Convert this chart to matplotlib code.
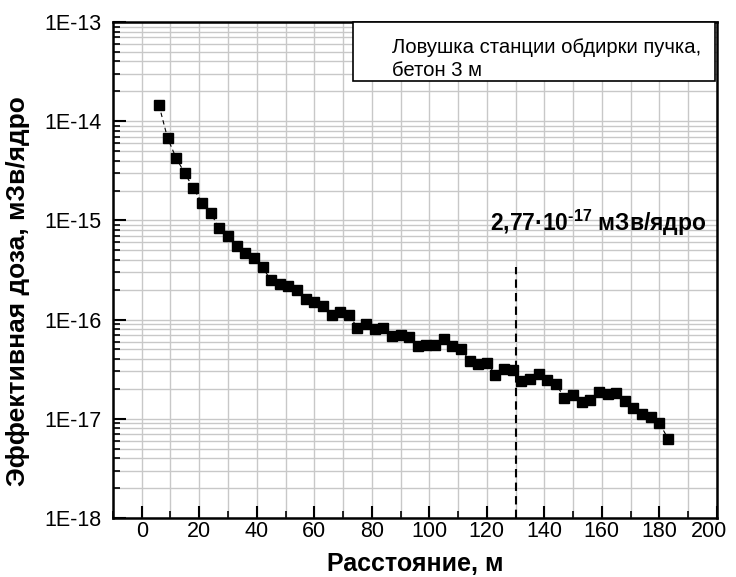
import matplotlib
matplotlib.use("Agg")
import matplotlib.pyplot as plt
from matplotlib.ticker import MultipleLocator, LogLocator, FuncFormatter, NullFormatter
from matplotlib.patches import Rectangle
from matplotlib.transforms import ScaledTranslation
import numpy as np

plt.rcParams['font.family'] = ['Liberation Sans', 'DejaVu Sans']
plt.rcParams['mathtext.fontset'] = 'custom'
plt.rcParams['mathtext.rm'] = 'Liberation Sans:bold'
plt.rcParams['mathtext.bf'] = 'Liberation Sans:bold'
plt.rcParams['mathtext.it'] = 'Liberation Sans:bold'

distance = [6, 9, 12, 15, 18, 21, 24, 27, 30, 33, 36, 39, 42, 45, 48, 51, 54, 57, 60, 63,
            66, 69, 72, 75, 78, 81, 84, 87, 90, 93, 96, 99, 102, 105, 108, 111, 114, 117, 120, 123,
            126, 129, 132, 135, 138, 141, 144, 147, 150, 153, 156, 159, 162, 165, 168, 171, 174, 177, 180, 183]
dose = [1.45e-14, 6.73e-15, 4.23e-15, 2.98e-15, 2.1e-15, 1.49e-15, 1.18e-15, 8.3e-16, 6.9e-16, 5.46e-16,
        4.64e-16, 4.13e-16, 3.35e-16, 2.48e-16, 2.26e-16, 2.2e-16, 2.01e-16, 1.63e-16, 1.52e-16, 1.38e-16,
        1.1e-16, 1.18e-16, 1.12e-16, 8.3e-17, 9.1e-17, 8.1e-17, 8.3e-17, 6.9e-17, 7.05e-17, 6.6e-17,
        5.46e-17, 5.6e-17, 5.6e-17, 6.4e-17, 5.46e-17, 5.1e-17, 3.85e-17, 3.6e-17, 3.68e-17, 2.78e-17,
        3.2e-17, 3.13e-17, 2.42e-17, 2.54e-17, 2.85e-17, 2.48e-17, 2.26e-17, 1.62e-17, 1.75e-17, 1.49e-17,
        1.56e-17, 1.88e-17, 1.79e-17, 1.83e-17, 1.52e-17, 1.29e-17, 1.12e-17, 1.05e-17, 9.1e-18, 6.3e-18]

marker_x = 130
marker_top = 3.35e-16
legend_lines = ["Ловушка станции обдирки пучка,", "бетон 3 м"]
annot_text = "2,77·10$^{\\text{-17}}$ мЗв/ядро"

fig = plt.figure(figsize=(7.36, 5.77), dpi=100)
ax = fig.add_axes([0.1535, 0.1023, 0.8205, 0.8596])

ax.set_yscale('log')
ax.set_xlim(-10, 200)
ax.set_ylim(1e-18, 1e-13)

ax.plot(distance, dose, color='black', lw=0.8, ls=(0, (4, 3)), marker='s', ms=7,
        mfc='black', mec='black', zorder=3)

ax.vlines(marker_x, 1e-18, marker_top, colors='black', linestyles=(0, (4, 2.5)), lw=1.5, zorder=2)

ax.xaxis.set_major_locator(MultipleLocator(20))
ax.xaxis.set_minor_locator(MultipleLocator(10))
ax.yaxis.set_major_locator(LogLocator(base=10, numticks=10))
ax.yaxis.set_minor_locator(LogLocator(base=10, subs=np.arange(2, 10), numticks=20))
ax.yaxis.set_minor_formatter(NullFormatter())

def fmt(v, pos):
    e = int(round(np.log10(v)))
    return "1E%d" % e
ax.yaxis.set_major_formatter(FuncFormatter(fmt))

ax.grid(True, which='both', color='#c8c8c8', lw=1.0, zorder=0)
ax.set_axisbelow(True)

ax.tick_params(which='major', direction='in', length=9, width=1.5, labelsize=15.5,
               top=False, right=False)
ax.tick_params(which='minor', direction='in', length=5, width=1.2, top=False, right=False)
ax.tick_params(axis='x', which='major', pad=2)
ax.tick_params(axis='y', which='major', pad=8)

for s in ax.spines.values():
    s.set_linewidth(1.8)

ax.set_xlabel("Расстояние, м", fontsize=18, fontweight='bold')
ax.set_ylabel("Эффективная доза, мЗв/ядро", fontsize=19, fontweight='bold')
ax.xaxis.set_label_coords(0.5, -0.069)
ax.yaxis.set_label_coords(-0.137, 0.458)

ax.text(121, 9.5e-16, annot_text, fontsize=16.5, fontweight='bold', va='center', ha='left', zorder=5)

# legend-like text box
ax.add_patch(Rectangle((0.397, 0.882), 0.6, 0.118, transform=ax.transAxes, fc='white',
                       ec='black', lw=1.2, zorder=6, clip_on=False))
ax.text(0.462, 0.949, legend_lines[0], transform=ax.transAxes, fontsize=14.6, va='center', ha='left', zorder=7)
ax.text(0.462, 0.903, legend_lines[1], transform=ax.transAxes, fontsize=14.6, va='center', ha='left', zorder=7)

# shift last x tick label slightly left (as in the original)
fig.canvas.draw()
for tick in ax.xaxis.get_major_ticks():
    if abs(tick.get_loc() - 200) < 1e-6:
        lbl = tick.label1
        lbl.set_transform(lbl.get_transform() + ScaledTranslation(-8 / 100, 0, fig.dpi_scale_trans))

fig.savefig("out.png", dpi=100)
